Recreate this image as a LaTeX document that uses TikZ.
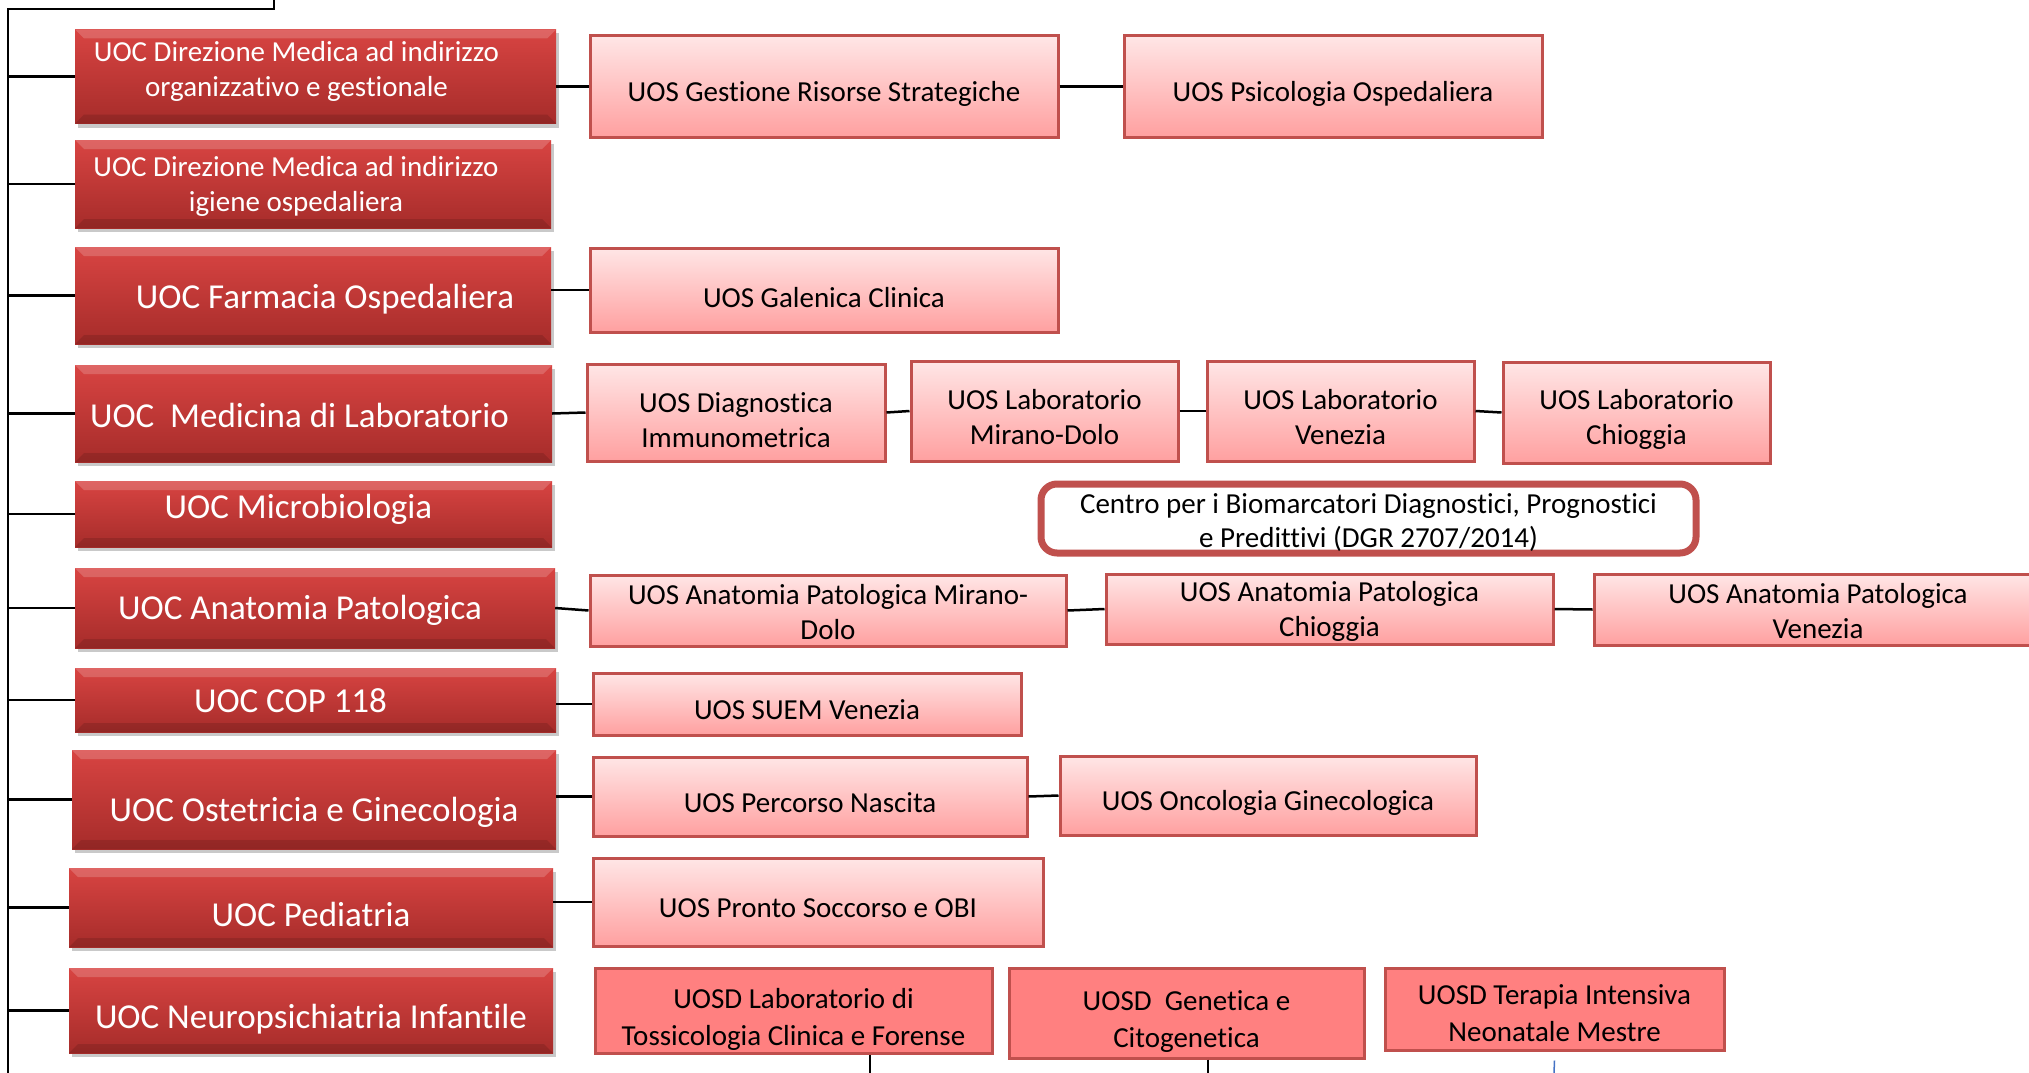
\documentclass[tikz,border=0pt]{standalone}
\usepackage{fontspec}
\setmainfont{Carlito}[Ligatures=NoCommon]
\usepackage{tikz}
\usetikzlibrary{positioning,shadows}
\usepackage{xcolor}
\definecolor{uocred}{RGB}{216,68,66}
\definecolor{uocdark}{RGB}{166,44,42}
\definecolor{uospink}{RGB}{255,230,230}
\definecolor{uospinkdark}{RGB}{255,160,160}
\definecolor{uosborder}{RGB}{192,80,77}
\definecolor{uosdfill}{RGB}{255,128,128}
\definecolor{stubblue}{RGB}{68,114,196}
% strut at the start of a node text, pushes the text block down
\newcommand{\topstrut}[1]{\rule{0pt}{#1}}

\begin{document}
\begin{tikzpicture}[x=1pt, y=-1pt,
  uocbase/.style={top color=uocred, bottom color=uocdark, text=white, inner sep=0pt, align=center,
    drop shadow={shadow xshift=3pt, shadow yshift=-4pt, opacity=0.3, fill=black!70},
    path picture={
      \fill[white, opacity=0.18] (path picture bounding box.north west) -- (path picture bounding box.north east) -- ([shift={(-9pt,-9pt)}]path picture bounding box.north east) -- ([shift={(9pt,-9pt)}]path picture bounding box.north west) -- cycle;
      \fill[black, opacity=0.12] (path picture bounding box.south west) -- (path picture bounding box.south east) -- ([shift={(-9pt,9pt)}]path picture bounding box.south east) -- ([shift={(9pt,9pt)}]path picture bounding box.south west) -- cycle;}},
  uoc/.style={uocbase, font=\fontsize{35}{40}\selectfont, text height=24pt, text depth=8pt},
  uocsmall/.style={uocbase, font=\fontsize{29}{35}\selectfont},
  nudge/.style={execute at begin node={\hspace*{#1}}},
  textdown/.style={execute at begin node={\rule{0pt}{#1}}},
  textup/.style={execute at end node={\rule[-#1]{0pt}{0pt}}},
  uos/.style={draw=uosborder, line width=3pt, top color=uospink, bottom color=uospinkdark, inner sep=0pt, align=center, font=\fontsize{29}{35}\selectfont},
  uosd/.style={draw=uosborder, line width=3pt, fill=uosdfill, inner sep=0pt, align=center, font=\fontsize{29}{37}\selectfont},
  centrobox/.style={draw=uosborder, line width=7pt, rounded corners=16pt, fill=white, inner sep=0pt, align=center, font=\fontsize{29}{34}\selectfont},
  link/.style={line width=2.5pt}]
\clip (0,0) rectangle (2029,1073);

% UOC column
\node[uocsmall, textup=16pt, minimum width=481pt, minimum height=94pt] (dirorg) at (315.5,76.5) {\hspace*{-38pt}UOC Direzione Medica ad indirizzo\\\hspace*{-38pt}organizzativo e gestionale};
\node[uocsmall, minimum width=476pt, minimum height=88pt] (origiene) at (313,184) {\topstrut{24pt}\hspace*{-34pt}UOC Direzione Medica ad indirizzo\\\hspace*{-34pt}igiene ospedaliera};
\node[uoc, text height=33.6pt, nudge=24pt, minimum width=476pt, minimum height=97pt] (farmacia) at (313,295.5) {UOC Farmacia Ospedaliera};
\node[uoc, text height=35pt, nudge=-28pt, minimum width=477pt, minimum height=97pt] (medlab) at (313.5,413.5) {UOC~ Medicina di Laboratorio};
\node[uoc, text height=17.6pt, nudge=-30pt, minimum width=477pt, minimum height=66pt] (microbio) at (313.5,514) {UOC Microbiologia};
\node[uoc, text height=31.6pt, nudge=-30pt, minimum width=480pt, minimum height=80pt] (anatomia) at (315,608) {UOC Anatomia Patologica};
\node[uoc, text height=32.5pt, nudge=-50pt, minimum width=481pt, minimum height=64pt] (cop) at (315.5,700) {UOC COP 118};
\node[uoc, text height=51.6pt, minimum width=484pt, minimum height=99pt] (ostetricia) at (314,799.5) {UOC Ostetricia e Ginecologia};
\node[uoc, text height=45pt, minimum width=484pt, minimum height=79pt] (pediatria) at (311,907.5) {UOC Pediatria};
\node[uoc, text height=43.6pt, minimum width=484pt, minimum height=85pt] (neuro) at (311,1010.5) {UOC Neuropsichiatria Infantile};

% UOS boxes
\node[uos, textdown=35.5pt, minimum width=468pt, minimum height=101pt] (gestione) at (824,86.5) {UOS Gestione Risorse Strategiche};
\node[uos, textdown=35.5pt, minimum width=418pt, minimum height=101pt] (psicologia) at (1333,86.5) {UOS Psicologia Ospedaliera};
\node[uos, textdown=35.5pt, minimum width=468pt, minimum height=84pt] (galenica) at (824,290) {UOS Galenica Clinica};
\node[uos, minimum width=298pt, minimum height=97pt] (diagnostica) at (736,412.5) {\topstrut{35.5pt}UOS Diagnostica\\Immunometrica};
\node[uos, minimum width=267pt, minimum height=100pt] (labmirano) at (1044.5,411) {\topstrut{33pt}UOS Laboratorio\\Mirano-Dolo};
\node[uos, minimum width=267pt, minimum height=100pt] (labvenezia) at (1340.5,411) {\topstrut{33pt}UOS Laboratorio\\Venezia};
\node[uos, minimum width=267pt, minimum height=101pt] (labchioggia) at (1636.5,412.5) {\topstrut{33pt}UOS Laboratorio\\Chioggia};
\node[centrobox, minimum width=655pt, minimum height=69pt] (centro) at (1368.5,518.5) {\topstrut{28pt}Centro per i Biomarcatori Diagnostici, Prognostici\\e Predittivi (DGR 2707/2014)};
\node[uos, minimum width=476pt, minimum height=71pt] (anatmirano) at (828,610.5) {\topstrut{24pt}UOS Anatomia Patologica Mirano-\\Dolo};
\node[uos, minimum width=447pt, minimum height=70pt] (anatchioggia) at (1329.5,609) {\topstrut{24pt}UOS Anatomia Patologica\\Chioggia};
\node[uos, minimum width=448pt, minimum height=71pt] (anatvenezia) at (1818,609.5) {\topstrut{24pt}UOS Anatomia Patologica\\Venezia};
\node[uos, textdown=31.5pt, minimum width=428pt, minimum height=62pt] (suem) at (807,704) {UOS SUEM Venezia};
\node[uos, textdown=32pt, minimum width=434pt, minimum height=79pt] (nascita) at (810,796.5) {UOS Percorso Nascita};
\node[uos, textdown=35.5pt, minimum width=416pt, minimum height=79pt] (oncologia) at (1268,795.5) {UOS Oncologia Ginecologica};
\node[uos, textdown=32pt, minimum width=450pt, minimum height=88pt] (pronto) at (818,902) {UOS Pronto Soccorso e OBI};

% UOSD boxes
\node[uosd, minimum width=397pt, minimum height=85pt] (tossicologia) at (793.5,1010.5) {\topstrut{38pt}UOSD Laboratorio di\\Tossicologia Clinica e Forense};
\node[uosd, minimum width=355pt, minimum height=90pt] (genetica) at (1186.5,1013) {\topstrut{37pt}UOSD~ Genetica e\\Citogenetica};
\node[uosd, minimum width=339pt, minimum height=82pt] (terapia) at (1554.5,1009) {\topstrut{29pt}UOSD Terapia Intensiva\\Neonatale Mestre};

% bus on the left
\coordinate (bustop) at (8,9);
\coordinate (busbot) at (8,1073);
\coordinate (uplink) at (274,0);
\draw[link] (uplink) -- (uplink |- bustop) -- (bustop) -- (busbot);
\draw[link] (bustop |- dirorg.west) -- (dirorg.west);
\draw[link] (bustop |- origiene.west) -- (origiene.west);
\draw[link] (bustop |- farmacia.west) -- (farmacia.west);
\draw[link] (bustop |- medlab.west) -- (medlab.west);
\draw[link] (bustop |- microbio.west) -- (microbio.west);
\draw[link] (bustop |- anatomia.west) -- (anatomia.west);
\draw[link] (bustop |- cop.west) -- (cop.west);
\draw[link] (bustop |- ostetricia.west) -- (ostetricia.west);
\draw[link] (bustop |- pediatria.west) -- (pediatria.west);
\draw[link] (bustop |- neuro.west) -- (neuro.west);

% links to UOS
\draw[link] (dirorg.east |- gestione.west) -- (gestione.west);
\draw[link] (gestione.east) -- (psicologia.west);
\draw[link] (farmacia.east |- galenica.west) -- (galenica.west);
\draw[link] (medlab.east) -- (diagnostica.west);
\draw[link] (diagnostica.east) -- (labmirano.west);
\draw[link] (labmirano.east) -- (labvenezia.west);
\draw[link] (labvenezia.east) -- (labchioggia.west);
\draw[link] (anatomia.east) -- (anatmirano.west);
\draw[link] (anatmirano.east) -- (anatchioggia.west);
\draw[link] (anatchioggia.east) -- (anatvenezia.west);
\draw[link] (cop.east |- suem.west) -- (suem.west);
\draw[link] (ostetricia.east |- nascita.west) -- (nascita.west);
\draw[link] (nascita.east) -- (oncologia.west);
\draw[link] (pediatria.east |- pronto.west) -- (pronto.west);

% stubs below the UOSD
\coordinate (tossend) at (870,1073);
\coordinate (genend) at (1208,1073);
\coordinate (terend) at (1554,1073);
\draw[link] (tossend |- tossicologia.south) -- (tossend);
\draw[link] (genend |- genetica.south) -- (genend);
\draw[stubblue, line width=1.5pt] ([yshift=-9pt]terapia.south) -- (terend);
\end{tikzpicture}
\end{document}
